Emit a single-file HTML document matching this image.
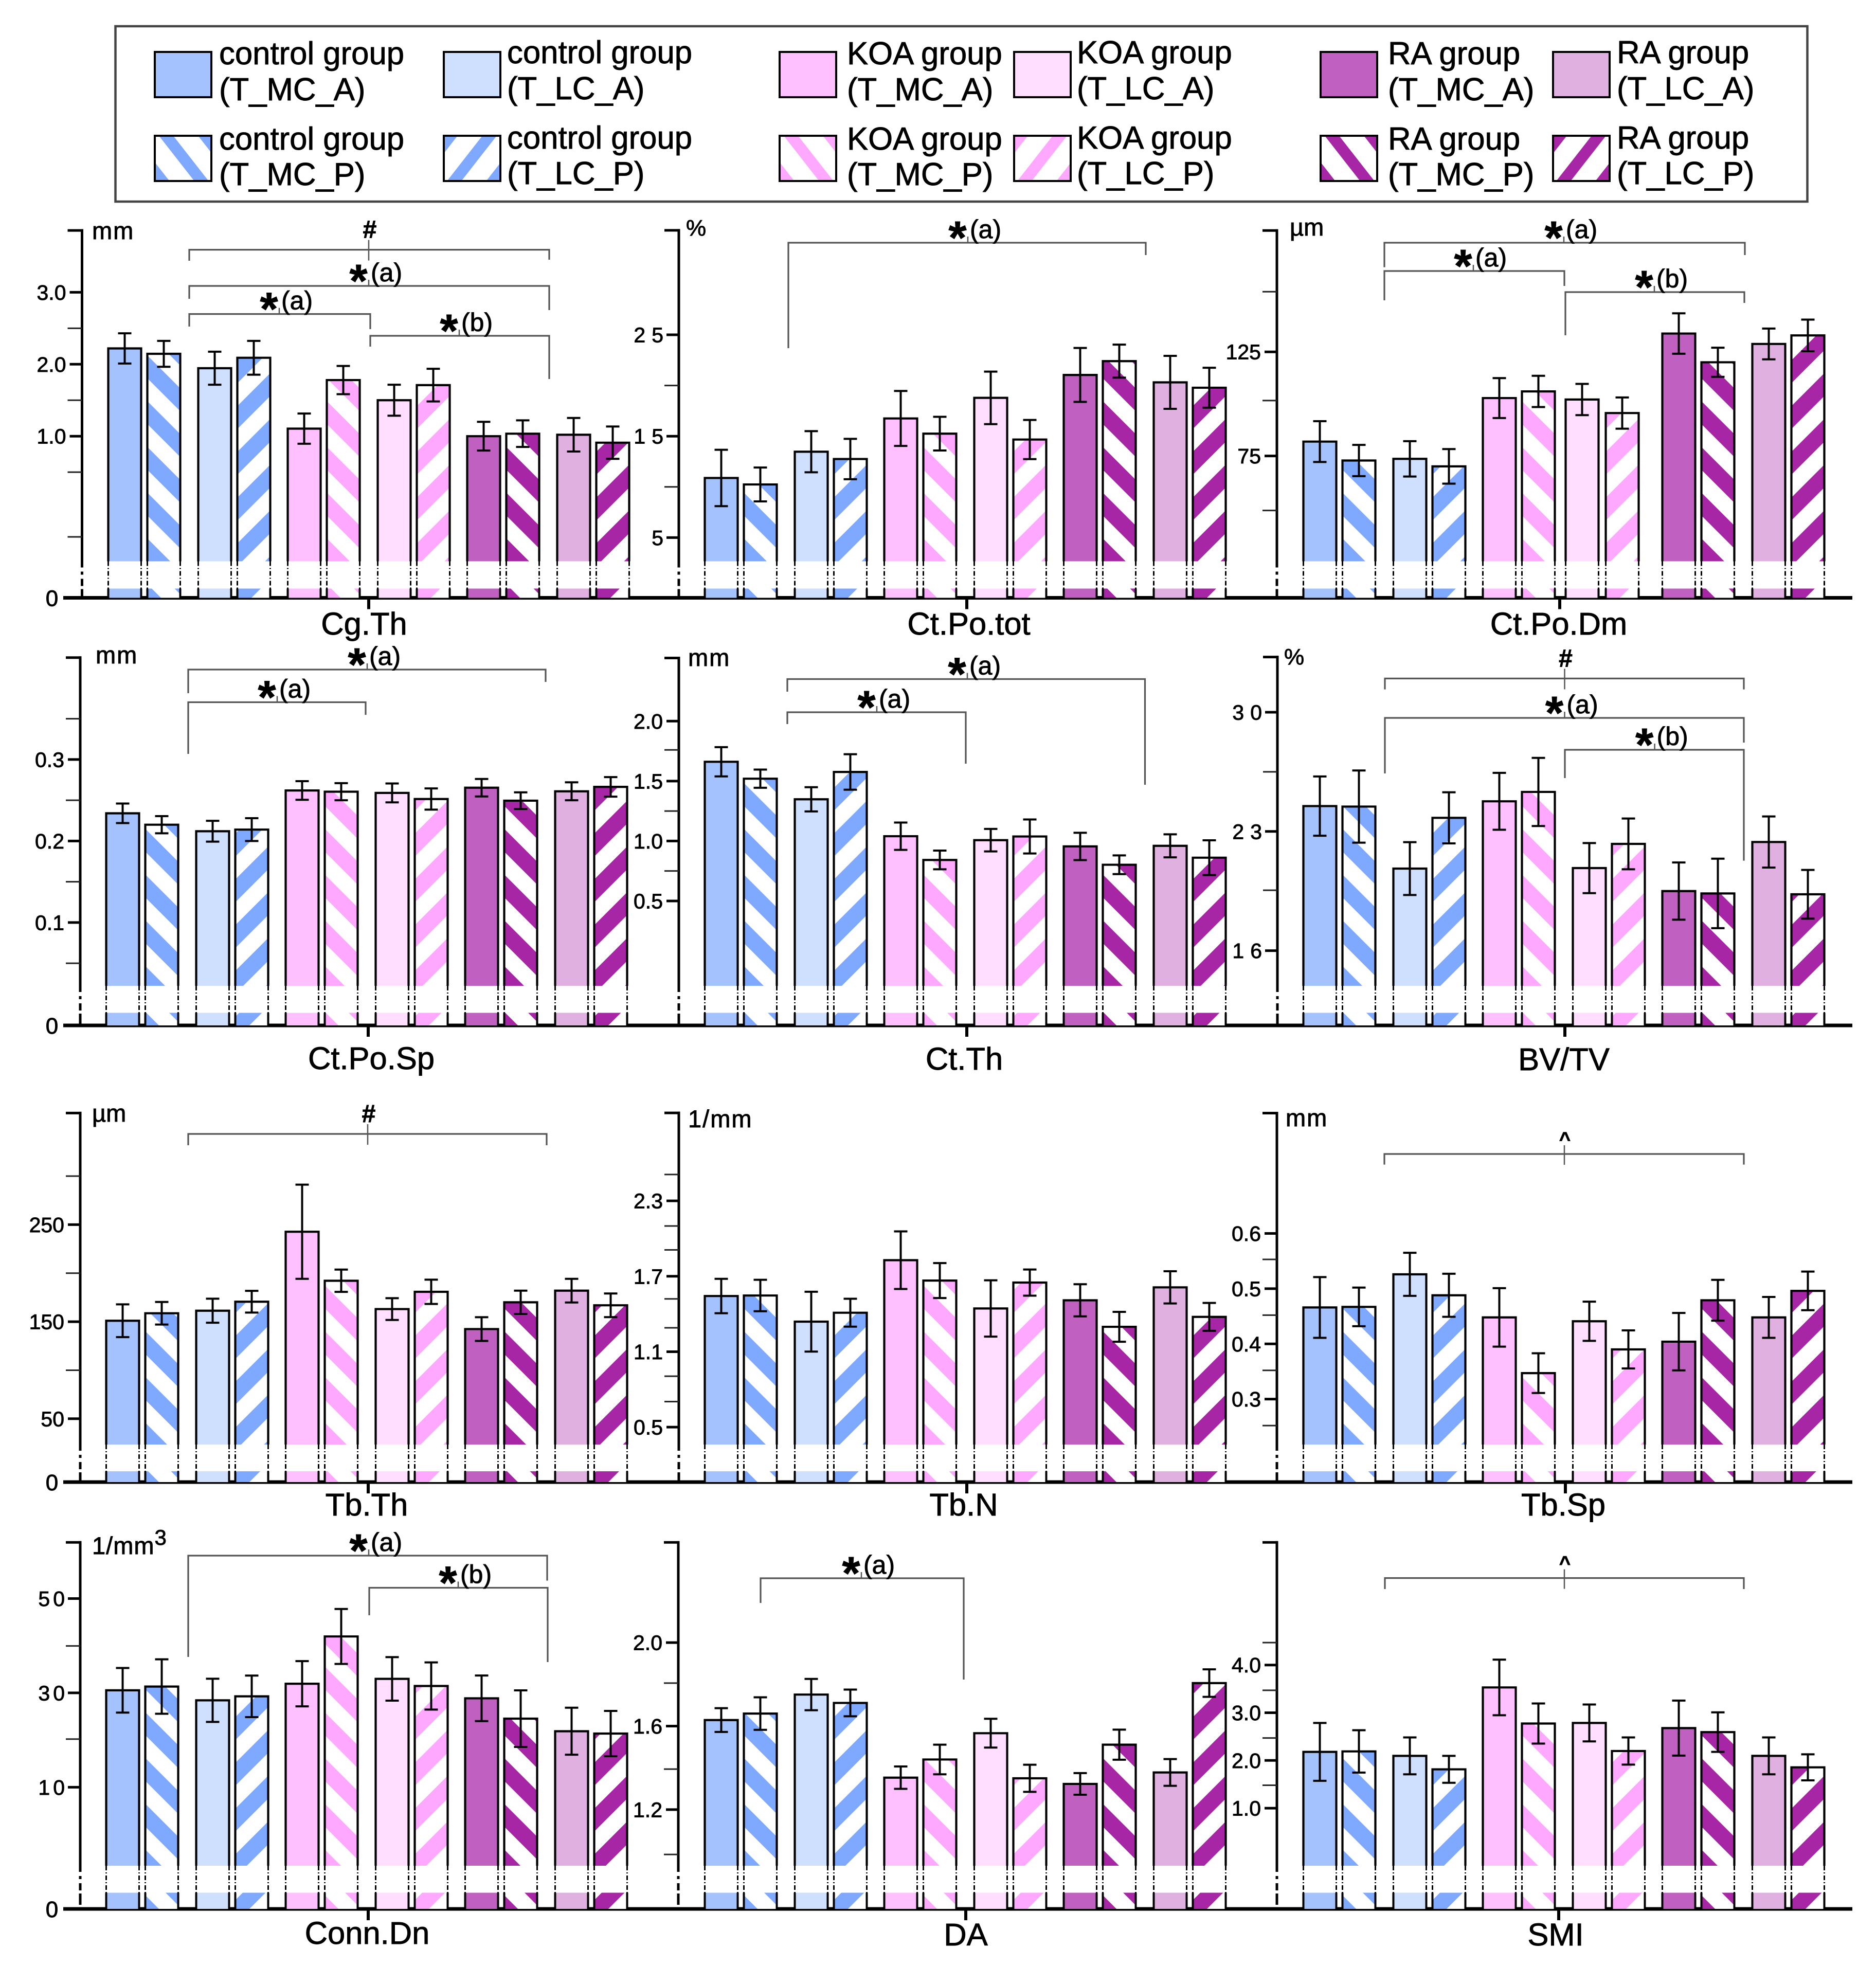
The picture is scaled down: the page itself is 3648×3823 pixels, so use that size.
<!DOCTYPE html>
<html lang="en">
<head>
<meta charset="utf-8">
<title>Bone microstructure parameters by group</title>
<style>
html,body{margin:0;padding:0;background:#fff}
svg{display:block}
text{font-family:"Liberation Sans",Arial,sans-serif;fill:#000;stroke:#000;stroke-width:.9px}
</style>
</head>
<body>
<svg id="chart" xmlns="http://www.w3.org/2000/svg" width="3648" height="3823" viewBox="0 0 3648 3823"></svg>
<script>
// ---------- Shared categories ----------
const categories = ["control-T_MC_A","control-T_MC_P","control-T_LC_A","control-T_LC_P","KOA-T_MC_A","KOA-T_MC_P","KOA-T_LC_A","KOA-T_LC_P","RA-T_MC_A","RA-T_MC_P","RA-T_LC_A","RA-T_LC_P"];

// ---------- Panel data (values, errors, ticks) ----------
const cgThValues = [2.22,2.145,1.945,2.09,1.105,1.78,1.50,1.71,1.0,1.035,1.02,0.91];
const cgThErrors = [0.21,0.18,0.23,0.235,0.21,0.196,0.215,0.227,0.20,0.185,0.233,0.225];
const cgThTicks = [3,2,1];
const cgThTickLabels = ["3.0","2.0","1.0"];
const cgThMinorTicks = [2.5,1.5,0.5,-0.4];
const cgThAxisTop = 3.86;

const ctPoTotValues = [10.88,10.24,13.47,12.75,16.75,15.25,18.78,14.67,21.04,22.4,20.31,19.78];
const ctPoTotErrors = [2.78,1.67,2.03,1.99,2.71,1.66,2.59,1.93,2.66,1.63,2.61,1.97];
const ctPoTotTicks = [25,15,5];
const ctPoTotTickLabels = ["25","15","5"];
const ctPoTotMinorTicks = [20,10];
const ctPoTotAxisTop = 35.3;

const ctPoDmValues = [81.9,72.8,73.6,70.0,102.8,106.0,102.1,95.6,133.8,120,128.8,132.9];
const ctPoDmErrors = [9.8,7.5,8.5,8.3,9.6,7.5,7.5,7.5,9.7,7.0,7.4,7.6];
const ctPoDmTicks = [125,75];
const ctPoDmTickLabels = ["125","75"];
const ctPoDmMinorTicks = [153.9,101.6,48.8];
const ctPoDmAxisTop = 183.3;

const ctPoSpValues = [0.234,0.220,0.212,0.214,0.262,0.2605,0.259,0.2515,0.2654,0.2495,0.261,0.2664];
const ctPoSpErrors = [0.012,0.0105,0.0128,0.014,0.0114,0.0105,0.0116,0.013,0.0107,0.0102,0.011,0.012];
const ctPoSpTicks = [0.3,0.2,0.1];
const ctPoSpTickLabels = ["0.3","0.2","0.1"];
const ctPoSpMinorTicks = [0.35,0.25,0.15,0.05];
const ctPoSpAxisTop = 0.425;

const ctThValues = [1.661,1.52,1.348,1.576,1.04,0.842,1.007,1.038,0.955,0.802,0.96,0.861];
const ctThErrors = [0.122,0.076,0.101,0.148,0.114,0.078,0.094,0.142,0.114,0.078,0.096,0.145];
const ctThTicks = [2,1.5,1,0.5];
const ctThTickLabels = ["2.0","1.5","1.0","0.5"];
const ctThMinorTicks = [1.76,1.25,0.75];
const ctThAxisTop = 2.527;

const bvTvValues = [24.49,24.46,20.82,23.8,24.77,25.32,20.85,22.27,19.5,19.36,22.38,19.31];
const bvTvErrors = [1.74,2.12,1.55,1.5,1.67,2.0,1.47,1.49,1.68,2.04,1.5,1.43];
const bvTvTicks = [30,23,16];
const bvTvTickLabels = ["30","23","16"];
const bvTvMinorTicks = [26.5,19.55];
const bvTvAxisTop = 33.24;

const tbThValues = [151,158.7,161.3,170.6,242.7,192.2,163,180.8,142.4,170,182,166.9];
const tbThErrors = [16.9,11.6,12.4,11.2,48.5,11.5,11.2,12.5,12.2,12,12.2,12.2];
const tbThTicks = [250,150,50];
const tbThTickLabels = ["250","150","50"];
const tbThMinorTicks = [300,200,100];
const tbThAxisTop = 365;

const tbNValues = [1.543,1.547,1.339,1.41,1.828,1.666,1.444,1.65,1.509,1.298,1.612,1.377];
const tbNErrors = [0.137,0.125,0.238,0.111,0.229,0.139,0.224,0.104,0.128,0.119,0.128,0.111];
const tbNTicks = [2.3,1.7,1.1,0.5];
const tbNTickLabels = ["2.3","1.7","1.1","0.5"];
const tbNMinorTicks = [2.51,2.1,1.91,1.52,1.29,0.905,0.703];
const tbNAxisTop = 3.0;

const tbSpValues = [0.466,0.467,0.526,0.488,0.448,0.347,0.441,0.39,0.404,0.479,0.448,0.496];
const tbSpErrors = [0.055,0.035,0.039,0.039,0.053,0.036,0.0355,0.0345,0.052,0.037,0.037,0.035];
const tbSpTicks = [0.6,0.5,0.4,0.3];
const tbSpTickLabels = ["0.6","0.5","0.4","0.3"];
const tbSpMinorTicks = [0.553,0.452,0.352,0.252];
const tbSpAxisTop = 0.818;

const connDnValues = [30.55,31.34,28.42,29.27,31.94,41.96,32.97,31.46,28.85,24.54,21.87,21.38];
const connDnErrors = [4.73,5.77,4.58,4.4,4.8,5.83,4.61,5.0,4.83,6.0,4.98,4.8];
const connDnTicks = [50,30,10];
const connDnTickLabels = ["50","30","10"];
const connDnMinorTicks = [39.95,20.2];
const connDnAxisTop = 61.9;

const daValues = [1.629,1.66,1.751,1.711,1.353,1.44,1.566,1.35,1.323,1.511,1.378,1.806];
const daErrors = [0.057,0.078,0.075,0.064,0.0535,0.071,0.069,0.065,0.052,0.072,0.064,0.066];
const daTicks = [2.0,1.6,1.2];
const daTickLabels = ["2.0","1.6","1.2"];
const daMinorTicks = [1.806,1.394,0.985];
const daAxisTop = 2.48;

const smiValues = [2.18,2.19,2.096,1.814,3.53,2.774,2.786,2.198,2.678,2.594,2.096,1.856];
const smiErrors = [0.606,0.444,0.387,0.282,0.582,0.42,0.387,0.285,0.576,0.414,0.387,0.273];
const smiTicks = [4,3,2,1];
const smiTickLabels = ["4.0","3.0","2.0","1.0"];
const smiMinorTicks = [4.47,3.47,2.47,1.48];
const smiAxisTop = 6.57;

// ---------- Legend text ----------
const legendGroups = ["control group","control group","KOA group","KOA group","RA group","RA group"];
const legendCodesTop = ["(T_MC_A)","(T_LC_A)","(T_MC_A)","(T_LC_A)","(T_MC_A)","(T_LC_A)"];
const legendCodesBottom = ["(T_MC_P)","(T_LC_P)","(T_MC_P)","(T_LC_P)","(T_MC_P)","(T_LC_P)"];

// ---------- Styling and layout ----------
const solidColors = ["#a4c2fd","#cfdffe","#ffc0ff","#ffdeff","#c060c0","#e0b0e0"];
const stripeColors = ["#7fa9ff","#7fa9ff","#ffa8ff","#ffa8ff","#a626a6","#a626a6"];
const barOffsets = [0,76,175,251,349,425,524,600,698,774,873,949];
const rows = [
  {base:1162.5, gapTop:71, gapBot:18, top:448},
  {base:1994,   gapTop:77, gapBot:24.5, top:1278},
  {base:2882,   gapTop:73, gapBot:21, top:2165},
  {base:3712,   gapTop:84, gapBot:31.5, top:2999}
];

const panels = [
 {id:"cg-th",title:"Cg.Th",row:0,axisX:159.5,barX:209,tickX:717,titleX:708,titleY:1234,ref:[1,848.2,139.9],v:cgThValues,e:cgThErrors,t:cgThTicks,l:cgThTickLabels,m:cgThMinorTicks,top:cgThAxisTop,
  unit:{s:"mm",x:179,y:465,ls:2,fs:47},
  br:[[368,1068,485.6,507,505,717,"#"],[368,1068,556,581,603,717,"a"],[368,720,610.6,635,640,543,"a"],[720,1068,653,674,737,893,"b"]]},
 {id:"ct-po-tot",title:"Ct.Po.tot",row:0,axisX:1320,barX:1369,tickX:1880,titleX:1884,titleY:1234,ref:[15,848.2,19.72],v:ctPoTotValues,e:ctPoTotErrors,t:ctPoTotTicks,l:ctPoTotTickLabels,m:ctPoTotMinorTicks,top:ctPoTotAxisTop,spaced:12,
  unit:{s:"%",x:1334,y:458,ls:0,fs:44},
  br:[[1533,2228,472,677,496,1882,"a"]]},
 {id:"ct-po-dm",title:"Ct.Po.Dm",row:0,axisX:2483,barX:2533,tickX:3033,titleX:3031,titleY:1234,ref:[75,886.6,4.048],v:ctPoDmValues,e:ctPoDmErrors,t:ctPoDmTicks,l:ctPoDmTickLabels,m:ctPoDmMinorTicks,top:ctPoDmAxisTop,shift:{6:-14,7:-12},
  unit:{s:"µm",x:2508,y:458,ls:0,fs:47},
  br:[[2692,3393,472,519.6,496,3041,"a"],[2692,3042,527,584,556,2865,"a"],[3044,3392,568,652,589,3217,"b"]]},
 {id:"ct-po-sp",title:"Ct.Po.Sp",row:1,axisX:156,barX:205,tickX:716,titleX:722,titleY:2079,ref:[0.2,1635.4,1585],v:ctPoSpValues,e:ctPoSpErrors,t:ctPoSpTicks,l:ctPoSpTickLabels,m:ctPoSpMinorTicks,top:ctPoSpAxisTop,
  unit:{s:"mm",x:186,y:1290,ls:2,fs:47},
  br:[[366,1061,1302,1348,1326,714,"a"],[366,711,1365.5,1466,1390,539,"a"]]},
 {id:"ct-th",title:"Ct.Th",row:1,axisX:1320,barX:1369,tickX:1880,titleX:1875,titleY:2080,ref:[1,1635.4,233.1],v:ctThValues,e:ctThErrors,t:ctThTicks,l:ctThTickLabels,m:ctThMinorTicks,top:ctThAxisTop,
  unit:{s:"mm",x:1338,y:1295,ls:2,fs:47},
  br:[[1531,2226.5,1320.5,1345,1526,1881,"a"],[1531,1878,1385,1408,1485,1705,"a"]]},
 {id:"bv-tv",title:"BV/TV",row:1,axisX:2484,barX:2533,tickX:3043,titleX:3041,titleY:2081,ref:[23,1616.8,33.12],v:bvTvValues,e:bvTvErrors,t:bvTvTicks,l:bvTvTickLabels,m:bvTvMinorTicks,top:bvTvAxisTop,spaced:12,
  unit:{s:"%",x:2497,y:1292,ls:0,fs:44},
  br:[[2693,3391,1319.4,1340.6,1340.6,3042.5,"#"],[2693,3391,1396,1504,1444,3042.5,"a"],[3043,3391,1458,1513,1673.6,3217.6,"b"]]},
 {id:"tb-th",title:"Tb.Th",row:2,axisX:156,barX:205,tickX:716,titleX:713,titleY:2947,ref:[150,2570.1,1.887],v:tbThValues,e:tbThErrors,t:tbThTicks,l:tbThTickLabels,m:tbThMinorTicks,top:tbThAxisTop,
  unit:{s:"µm",x:179,y:2181,ls:0,fs:47},
  br:[[366,1063,2205,2227,2227,715,"#"]]},
 {id:"tb-n",title:"Tb.N",row:2,axisX:1320,barX:1369,tickX:1880,titleX:1874,titleY:2947,ref:[1.7,2481.8,244.4],v:tbNValues,e:tbNErrors,t:tbNTicks,l:tbNTickLabels,m:tbNMinorTicks,top:tbNAxisTop,
  unit:{s:"1/mm",x:1338,y:2192,ls:2,fs:47},
  br:[]},
 {id:"tb-sp",title:"Tb.Sp",row:2,axisX:2483,barX:2533,tickX:3044,titleX:3040,titleY:2947,ref:[0.5,2505.9,1073.5],v:tbSpValues,e:tbSpErrors,t:tbSpTicks,l:tbSpTickLabels,m:tbSpMinorTicks,top:tbSpAxisTop,
  unit:{s:"mm",x:2500,y:2190,ls:2,fs:47},
  br:[[2692,3391,2244,2264.6,2264.6,3042,"^"]]},
 {id:"conn-dn",title:"Conn.Dn",row:3,axisX:156,barX:205,tickX:716,titleX:714,titleY:3780,ref:[30,3291.9,9.173],v:connDnValues,e:connDnErrors,t:connDnTicks,l:connDnTickLabels,m:connDnMinorTicks,top:connDnAxisTop,spaced:6,
  unit:{s:"1/mm",sup:"3",x:179,y:3022,ls:1,fs:47},
  br:[[366,1064,3025,3222,3073.6,717,"a"],[718,1065,3087.5,3141,3232,891,"b"]]},
 {id:"da",title:"DA",row:3,axisX:1319,barX:1369,tickX:1878,titleX:1878,titleY:3783,ref:[1.6,3356.5,405.9],v:daValues,e:daErrors,t:daTicks,l:daTickLabels,m:daMinorTicks,top:daAxisTop,
  br:[[1479,1874,3069,3117,3266,1675,"a"]]},
 {id:"smi",title:"SMI",row:3,axisX:2483,barX:2533,tickX:3031,titleX:3025,titleY:3783,ref:[2,3423.3,92.8],v:smiValues,e:smiErrors,t:smiTicks,l:smiTickLabels,m:smiMinorTicks,top:smiAxisTop,
  br:[[2693,3391,3068.6,3090,3090,3042,"^"]]}
];

// ---------- Drawing ----------
const NS = "http://www.w3.org/2000/svg";
const svg = document.getElementById("chart");
const defs = document.createElementNS(NS, "defs");
svg.appendChild(defs);
let patternId = 0;

function add(parent, tag, name, attrs, content) {
  const el = document.createElementNS(NS, tag);
  
  
  for (const k in attrs) el.setAttribute(k, attrs[k]);
  if (content !== undefined) el.textContent = content;
  parent.appendChild(el);
  return el;
}
function makePattern(color, period, stripe, transform) {
  const id = "hatch" + (patternId++);
  const p = document.createElementNS(NS, "pattern");
  p.setAttribute("id", id);
  p.setAttribute("patternUnits", "userSpaceOnUse");
  p.setAttribute("width", period);
  p.setAttribute("height", period);
  p.setAttribute("patternTransform", transform);
  const bg = document.createElementNS(NS, "rect");
  bg.setAttribute("width", period);
  bg.setAttribute("height", period);
  bg.setAttribute("fill", "#fff");
  p.appendChild(bg);
  const r = document.createElementNS(NS, "rect");
  r.setAttribute("width", stripe);
  r.setAttribute("height", period);
  r.setAttribute("fill", color);
  p.appendChild(r);
  defs.appendChild(p);
  return "url(#" + id + ")";
}
function line(parent, name, x1, y1, x2, y2, stroke, width, dash) {
  const attrs = {x1:x1, y1:y1, x2:x2, y2:y2, stroke:stroke, "stroke-width":width};
  if (dash) attrs["stroke-dasharray"] = dash;
  return add(parent, "line", name, attrs);
}

// Legend
const legend = add(svg, "g", "legend", {});
add(legend, "rect", "legend-frame", {x:224.5, y:51, width:3290, height:341, fill:"#fff", stroke:"#444", "stroke-width":4.5});
const swatchX = [301,863,1516,1972,2568,3020];
const textX = [426,986,1647,2094,2699,3144];
for (let c = 0; c < 6; c++) {
  const lift = c % 2 ? 2 : 0;
  for (let r = 0; r < 2; r++) {
    const sy = r === 0 ? 101 : 264;
    const b1 = (r === 0 ? 125 : 291) - lift;
    const b2 = (r === 0 ? 195 : 360) - lift;
    const item = add(legend, "g", "legend-entry-" + (c + 1) + "-" + (r + 1), {});
    let fill = solidColors[c];
    if (r === 1) {
      const tf = c % 2 === 0
        ? "translate(" + (swatchX[c] + 8) + " " + sy + ") rotate(-38)"
        : "translate(" + (swatchX[c] + 75) + " " + sy + ") rotate(38)";
      fill = makePattern(stripeColors[c], 60, 22, tf);
    }
    add(item, "rect", "legend-swatch", {x:swatchX[c], y:sy, width:110, height:88, fill:fill, stroke:"#000", "stroke-width":4});
    add(item, "text", "legend-label-group", {x:textX[c], y:b1, "font-size":61.7}, legendGroups[c]);
    add(item, "text", "legend-label-code", {x:textX[c], y:b2, "font-size":61.7}, r === 0 ? legendCodesTop[c] : legendCodesBottom[c]);
  }
}

// Baselines and zero labels
rows.forEach(function (r, i) {
  line(svg, "x-axis-row-" + (i + 1), 123, r.base, 3602, r.base, "#000", 7);
  add(svg, "text", "y-tick-label-zero", {x:101, y:r.base + 16, "font-size":44, "text-anchor":"middle"}, "0");
});

function drawPanel(p) {
  const row = rows[p.row];
  const g = add(svg, "g", "panel-" + p.id, {});
  const yScale = function (v) { return p.ref[1] - (v - p.ref[0]) * p.ref[2]; };
  const gapA = row.base - row.gapTop;
  const gapB = row.base - row.gapBot;
  const W = 67;

  // Bars
  p.v.forEach(function (val, i) {
    const x = p.barX + barOffsets[i] + ((p.shift && p.shift[i]) || 0);
    const y = yScale(val);
    const group = Math.floor(i / 4) * 2 + (i % 4 >= 2 ? 1 : 0);
    const hatched = i % 2 === 1;
    const bar = add(g, "g", "bar-" + categories[i], {});
    let fill = solidColors[group];
    if (hatched) {
      const tf = i % 4 === 1
        ? "translate(" + x + " " + row.base + ") rotate(-45) translate(51.3 0)"
        : "translate(" + x + " " + row.base + ") rotate(45) translate(-11 0)";
      fill = makePattern(stripeColors[group], 62.9, 31.45, tf);
    }
    add(bar, "rect", "bar-fill", {x:x, y:y, width:W, height:row.base - y, fill:fill});
    add(bar, "rect", "axis-break-gap", {x:x - 1, y:gapA, width:W + 2, height:gapB - gapA, fill:"#fff"});
    const xl = x + 1.5, xr = x + W - 1.5;
    add(bar, "path", "bar-outline-upper", {d:"M" + xl + " " + gapA + "V" + y + "H" + xr + "V" + gapA, fill:"none", stroke:"#000", "stroke-width":4.2});
    line(bar, "bar-edge-break", xl, gapA, xl, gapB, "#000", 3, "9 4 2 4");
    line(bar, "bar-edge-break", xr, gapA, xr, gapB, "#000", 3, "9 4 2 4");
    line(bar, "bar-edge-lower", xl, gapB, xl, row.base, "#000", 4);
    line(bar, "bar-edge-lower", xr, gapB, xr, row.base, "#000", 4);
    const cx = x + W / 2, err = p.e[i];
    line(bar, "error-bar-stem", cx, yScale(val + err), cx, yScale(val - err), "#000", 4);
    line(bar, "error-bar-cap", cx - 13, yScale(val + err), cx + 13, yScale(val + err), "#000", 4);
    line(bar, "error-bar-cap", cx - 13, yScale(val - err), cx + 13, yScale(val - err), "#000", 4);
  });

  // Y axis
  line(g, "y-axis-line", p.axisX, yScale(p.top) - 2.5, p.axisX, gapA - 10, "#000", 5);
  line(g, "y-axis-break", p.axisX, gapA - 10, p.axisX, row.base, "#000", 5, "22 8 6 8 14 6");
  line(g, "y-axis-top-tick", p.axisX - 28, yScale(p.top), p.axisX + 2, yScale(p.top), "#000", 5);
  p.t.forEach(function (v, i) {
    const y = yScale(v);
    line(g, "y-tick", p.axisX - 24, y, p.axisX, y, "#000", 5);
    const ls = p.spaced || 0;
    const a = {x:p.axisX - (ls ? 30 : 31) + ls, y:y + 14.5, "font-size":41, "text-anchor":"end"};
    if (ls) a["letter-spacing"] = ls;
    add(g, "text", "y-tick-label", a, p.l[i]);
  });
  p.m.forEach(function (v) {
    const y = yScale(v);
    line(g, "y-minor-tick", p.axisX - 28, y, p.axisX, y, "#222", 3);
  });

  // X tick and title
  line(g, "x-tick", p.tickX, row.base, p.tickX, row.base + 22, "#000", 6);
  add(g, "text", "x-axis-title", {x:p.titleX, y:p.titleY, "font-size":61.5, "text-anchor":"middle"}, p.title);

  // Unit
  if (p.unit) {
    const u = add(g, "text", "y-axis-unit", {x:p.unit.x, y:p.unit.y, "font-size":p.unit.fs, "letter-spacing":p.unit.ls}, p.unit.s);
    if (p.unit.sup) {
      add(u, "tspan", "y-axis-unit-superscript", {dy:-18, "font-size":42}, p.unit.sup);
    }
  }

  // Significance brackets
  p.br.forEach(function (b) {
    const x1 = b[0], x2 = b[1], y = b[2], le = b[3], re = b[4], mid = b[5], kind = b[6];
    const k = add(g, "g", "significance-bracket", {});
    add(k, "path", "bracket-line", {d:"M" + x1 + " " + le + "V" + y + "H" + x2 + "V" + re, fill:"none", stroke:"#555", "stroke-width":3.2});
    if (kind === "a" || kind === "b") {
      line(k, "bracket-tick", mid, y, mid, y - 12, "#555", 2.5);
      add(k, "text", "significance-star", {x:mid - 20, y:y + 21, "font-size":90, "font-weight":"bold", "text-anchor":"middle"}, "*");
      add(k, "text", "significance-letter", {x:mid + 4, y:y - 9, "font-size":50}, "(" + kind + ")");
    } else if (kind === "#") {
      line(k, "bracket-tick", mid, y - 19, mid, y + 21, "#555", 2.5);
      add(k, "text", "significance-hash", {x:mid + 2, y:y - 23, "font-size":48, "font-weight":"bold", "text-anchor":"middle"}, "#");
    } else {
      line(k, "bracket-tick", mid, y - 17, mid, y + 21, "#555", 2.5);
      add(k, "text", "significance-caret", {x:mid + 1, y:y - 16, "font-size":38, "font-weight":"bold", "text-anchor":"middle"}, "^");
    }
  });
}
panels.forEach(drawPanel);
</script>
</body>
</html>
